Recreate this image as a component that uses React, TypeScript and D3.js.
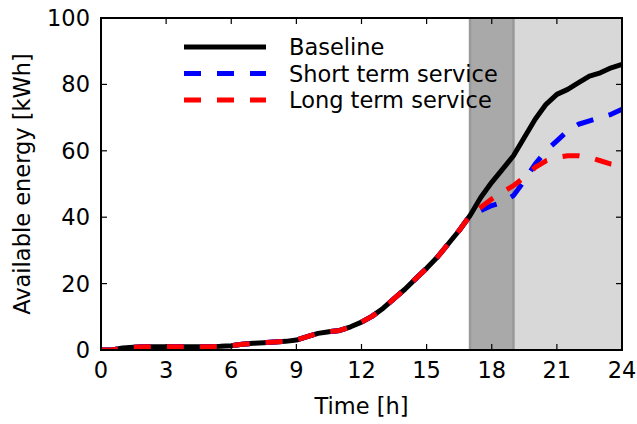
import React from "react";
import * as d3 from "d3";

// time axis (hours), 0.5 h steps
const hours = [
  0, 0.5, 1, 1.5, 2, 2.5, 3, 3.5, 4, 4.5, 5, 5.5, 6, 6.5, 7, 7.5, 8, 8.5, 9, 9.5,
  10, 10.5, 11, 11.5, 12, 12.5, 13, 13.5, 14, 14.5, 15, 15.5, 16, 16.5, 17, 17.5,
  18, 18.5, 19, 19.5, 20, 20.5, 21, 21.5, 22, 22.5, 23, 23.5, 24,
];

// shared part of the curve up to 17 h
const common = [
  0, 0, 0.6, 0.8, 1.0, 1.0, 1.0, 1.0, 1.0, 1.0, 1.0, 1.1, 1.3, 1.7, 2.0, 2.2, 2.4,
  2.6, 3.0, 4.0, 5.0, 5.5, 5.9, 7.0, 8.4, 10.2, 12.6, 15.5, 18.3, 21.5, 24.6, 28.0,
  32.0, 36.0, 40.5,
];

const baselineTail = [46.0, 50.5, 54.5, 58.5, 64.0, 69.5, 74.0, 77.0, 78.5, 80.5, 82.5, 83.5, 85.0, 86.0];
const shortTail = [42.0, 43.5, 44.5, 46.5, 51.0, 56.0, 60.0, 63.0, 66.0, 68.0, 69.0, 70.0, 71.0, 72.5];
const longTail = [43.0, 45.5, 47.5, 49.5, 52.0, 55.0, 57.0, 58.0, 58.5, 58.5, 58.0, 57.0, 56.0, 55.5];

const baseline = [...common, ...baselineTail];
const shortTerm = [...common, ...shortTail];
const longTerm = [...common, ...longTail];

const xTicks = [0, 3, 6, 9, 12, 15, 18, 21, 24];
const yTicks = [0, 20, 40, 60, 80, 100];

const series = [
  { name: "Baseline", values: baseline, color: "#000000", dash: null },
  { name: "Short term service", values: shortTerm, color: "#0000ff", dash: "17,16" },
  { name: "Long term service", values: longTerm, color: "#ff0000", dash: "17,16" },
];

const W = 637;
const H = 424;
const m = { left: 101, top: 18, right: 15, bottom: 74 };
const FONT = "DejaVu Sans, sans-serif";
const FS = 22.5;

export default function App() {
  const x = d3.scaleLinear().domain([0, 24]).range([m.left, W - m.right]);
  const y = d3.scaleLinear().domain([0, 100]).range([H - m.bottom, m.top]);

  const line = d3
    .line<number>()
    .x((_, i) => x(hours[i]))
    .y((d) => y(d));

  const x0 = x.range()[0];
  const x1 = x.range()[1];
  const y0 = y.range()[0];
  const y1 = y.range()[1];

  return (
    <svg
      width={W}
      height={H}
      style={{ position: "absolute", left: 0, top: 0, background: "#fff" }}
      fontFamily={FONT}
    >
      <defs>
        <clipPath id="plot">
          <rect x={x0} y={y1} width={x1 - x0} height={y0 - y1} />
        </clipPath>
      </defs>

      {/* service windows */}
      <rect x={x(19)} y={y1} width={x(24) - x(19)} height={y0 - y1} fill="#d8d8d8" />
      <rect x={x(17)} y={y1} width={x(19) - x(17)} height={y0 - y1} fill="#a9a9a9" />
      <line x1={x(17)} x2={x(17)} y1={y1} y2={y0} stroke="#999" strokeWidth={2.5} />
      <line x1={x(19)} x2={x(19)} y1={y1} y2={y0} stroke="#999" strokeWidth={2.5} />

      <g clipPath="url(#plot)">
        {series.map((s) => (
          <path
            key={s.name}
            d={line(s.values) || ""}
            fill="none"
            stroke={s.color}
            strokeWidth={5}
            strokeDasharray={s.dash || undefined}
            strokeLinejoin="round"
          />
        ))}
      </g>

      {/* ticks inside, all four sides */}
      {xTicks.map((t) => (
        <g key={"x" + t}>
          <line x1={x(t)} x2={x(t)} y1={y0} y2={y0 - 6} stroke="#000" strokeWidth={1.2} />
          <line x1={x(t)} x2={x(t)} y1={y1} y2={y1 + 6} stroke="#000" strokeWidth={1.2} />
          <text x={x(t)} y={y0 + 28} textAnchor="middle" fontSize={FS} fill="#000">
            {t}
          </text>
        </g>
      ))}
      {yTicks.map((t) => (
        <g key={"y" + t}>
          <line x1={x0} x2={x0 + 6} y1={y(t)} y2={y(t)} stroke="#000" strokeWidth={1.2} />
          <line x1={x1} x2={x1 - 6} y1={y(t)} y2={y(t)} stroke="#000" strokeWidth={1.2} />
          <text x={x0 - 11} y={y(t) + 8} textAnchor="end" fontSize={FS} fill="#000">
            {t}
          </text>
        </g>
      ))}

      <rect x={x0} y={y1} width={x1 - x0} height={y0 - y1} fill="none" stroke="#000" strokeWidth={2} />

      {/* legend */}
      {series.map((s, i) => {
        const ly = 47 + i * 26.5;
        return (
          <g key={"lg" + s.name}>
            <line
              x1={184}
              x2={266}
              y1={ly}
              y2={ly}
              stroke={s.color}
              strokeWidth={5}
              strokeDasharray={s.dash || undefined}
            />
            <text x={289} y={ly + 8} fontSize={FS} fill="#000">
              {s.name}
            </text>
          </g>
        );
      })}

      <text x={(x0 + x1) / 2} y={414} textAnchor="middle" fontSize={FS} fill="#000">
        Time [h]
      </text>
      <text
        transform={`translate(30, ${(y0 + y1) / 2}) rotate(-90)`}
        textAnchor="middle"
        fontSize={FS}
        fill="#000"
      >
        Available energy [kWh]
      </text>
    </svg>
  );
}
